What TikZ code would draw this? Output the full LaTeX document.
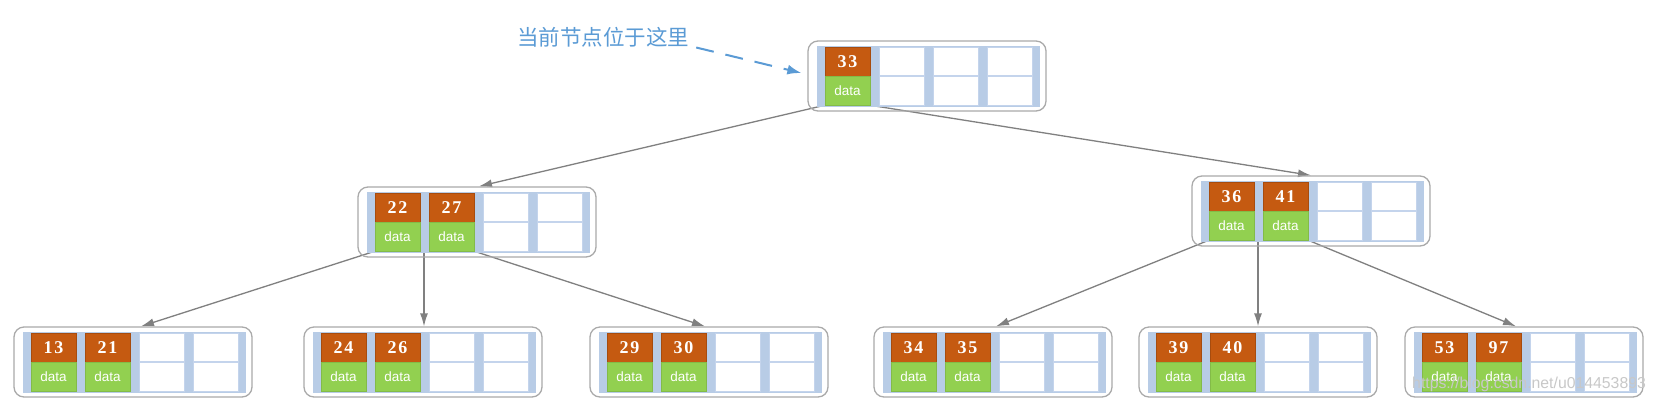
\documentclass[tikz,border=0pt]{standalone}
\usepackage{fontspec}
\setmainfont{Liberation Sans}
\newfontfamily\cjk{Noto Sans CJK SC}
\newfontfamily\numfont[LetterSpace=10]{Liberation Serif}
\newfontfamily\datafont{Liberation Sans}
\usetikzlibrary{arrows.meta}
\pgfdeclarelayer{background}
\pgfdeclarelayer{canvas}
\pgfsetlayers{canvas,background,main}
\definecolor{keyorange}{RGB}{197,90,17}
\definecolor{datagreen}{RGB}{146,208,80}
\definecolor{bandblue}{RGB}{184,204,230}
\definecolor{cellline}{RGB}{196,212,236}
\definecolor{boxgray}{RGB}{170,170,170}
\definecolor{conngray}{RGB}{128,128,128}
\definecolor{noteblue}{RGB}{91,155,213}
\definecolor{wmgray}{RGB}{200,200,200}
\tikzset{
  outerbox/.style={draw=boxgray, line width=1.3pt, rounded corners=10pt,
    minimum width=238pt, minimum height=70pt, inner sep=0pt},
  keycell/.style={fill=keyorange, draw=keyorange!85!black, line width=0.5pt,
    minimum width=45pt, minimum height=29pt, inner sep=0pt, text=white,
    font=\numfont\bfseries\fontsize{18}{18}\selectfont},
  datacell/.style={fill=datagreen, draw=datagreen!90!black, line width=0.5pt,
    minimum width=45pt, minimum height=29pt, inner sep=0pt, text=white,
    font=\datafont\fontsize{13.5}{14}\selectfont},
  emptyrect/.style={fill=white, draw=cellline, line width=0.8pt},
  conn/.style={draw=conngray, line width=1.3pt, -{Latex[length=13pt,width=8pt]}},
  notearrow/.style={draw=noteblue, line width=2pt, dash pattern=on 18pt off 12pt,
    -{Latex[length=14pt,width=10pt]}},
  notetext/.style={text=noteblue, font=\cjk\fontsize{21.5}{22}\selectfont, inner sep=0pt},
  watermark/.style={text=wmgray, font=\fontsize{15.8}{16}\selectfont, inner sep=0pt, anchor=west}
}
\newcommand\keypair[3]{%
  \node[keycell] (#1) at ({#2+22.5},20.5) {#3};
  \node[datacell] (#1-d) at ({#2+22.5},49.5) {data};}
\newcommand\emptypair[1]{%
  \draw[emptyrect] (#1,6.5) rectangle ({#1+45},34.5);
  \draw[emptyrect] (#1,35.5) rectangle ({#1+45},64);}
\newcommand\btnode[5]{%
  \begin{scope}[shift={(#2,#3)}]
    \node[outerbox] (#1) at (119,35) {};
    \fill[bandblue] (9,5) rectangle (232,66);
    \keypair{#1-a}{17}{#4}
    \if\relax\detokenize{#5}\relax \emptypair{71}\else \keypair{#1-b}{71}{#5}\fi
    \emptypair{125}
    \emptypair{179}
    \coordinate (#1-p1) at (66,64);
  \end{scope}}
\begin{document}
\begin{tikzpicture}[x=1pt,y=-1pt]
\useasboundingbox (0,0) rectangle (1656,405);
\begin{pgfonlayer}{canvas}
\fill[white] (0,0) rectangle (1656,405);
\end{pgfonlayer}
% nodes
\btnode{root}{808}{41}{33}{}
\btnode{ml}{358}{187}{22}{27}
\btnode{mr}{1192}{176}{36}{41}
\btnode{lfa}{14}{327}{13}{21}
\btnode{lfb}{304}{327}{24}{26}
\btnode{lfc}{590}{327}{29}{30}
\btnode{lfd}{874}{327}{34}{35}
\btnode{lfe}{1139}{327}{39}{40}
\btnode{lff}{1405}{327}{53}{97}
% annotation
\node[notetext] (note) at (603,37.5) {当前节点位于这里};
\draw[notearrow] ([shift={(7,10)}]note.east) -- ([shift={(-6,-3)}]root.west);
% connectors
\begin{pgfonlayer}{background}
\draw[conn] (root-a-d.south west) -- ([xshift=2pt]ml.north);
\draw[conn] (root-a-d.south east) -- (mr.north);
\draw[conn] (ml-a-d.south west) -- ([xshift=8pt]lfa.north);
\draw[conn] (ml-p1) -- (ml-p1 |- lfb.north);
\draw[conn] (ml-b-d.south east) -- ([xshift=-4pt]lfc.north);
\draw[conn] (mr-a-d.south west) -- ([xshift=3pt]lfd.north);
\draw[conn] (mr-p1) -- (mr-p1 |- lfe.north);
\draw[conn] (mr-b-d.south east) -- ([xshift=-8pt]lff.north);
\end{pgfonlayer}
% watermark
\node[watermark] (wm) at (1412,384) {https://blog.csdn.net/u014453893};
\end{tikzpicture}
\end{document}
